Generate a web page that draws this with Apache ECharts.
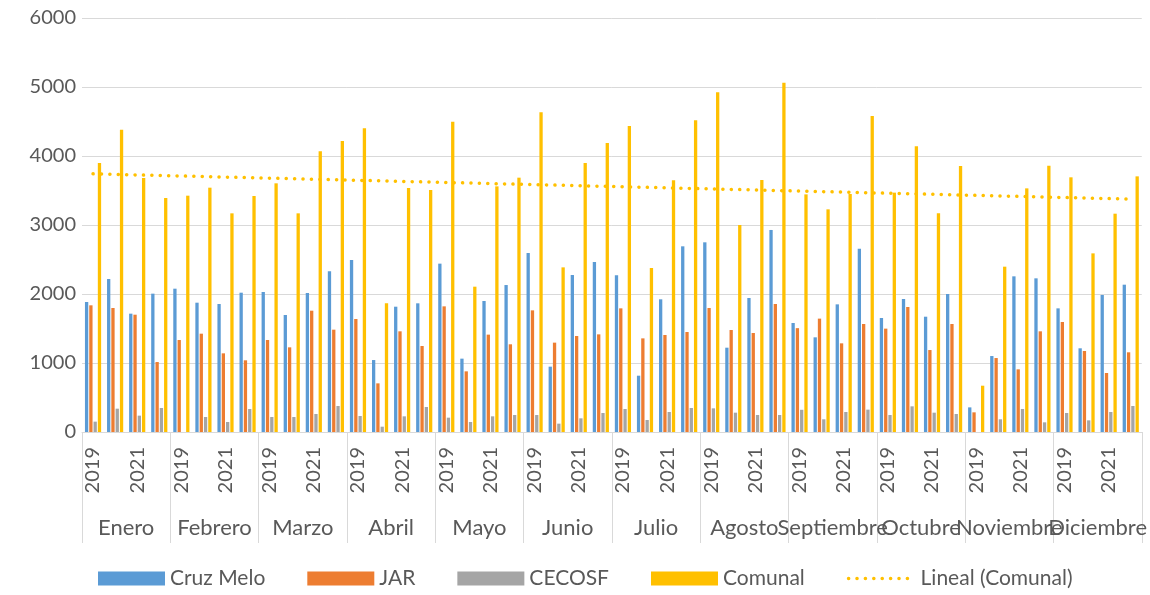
<!DOCTYPE html>
<html>
<head>
<meta charset="utf-8">
<script src="https://cdn.jsdelivr.net/npm/echarts@6/dist/echarts.min.js"></script>
<style>
  html, body { margin: 0; padding: 0; background: #fff; }
  #chart { width: 1150px; height: 595px; }
</style>
</head>
<body>
<div id="chart"></div>
<script>
const months = ['Enero', 'Febrero', 'Marzo', 'Abril', 'Mayo', 'Junio', 'Julio', 'Agosto', 'Septiembre', 'Octubre', 'Noviembre', 'Diciembre']
const years = ['2019', '2020', '2021', '2022']
const yTicks = [0, 1000, 2000, 3000, 4000, 5000, 6000]

// values per month, in order 2019, 2020, 2021, 2022
const cruzMelo = [
  1884, 2217, 1715, 2005,
  2077, 1874, 1855, 2019,
  2029, 1696, 2014, 2329,
  2493, 1043, 1816, 1865,
  2440, 1063, 1899, 2130,
  2594, 947, 2275, 2464,
  2271, 816, 1923, 2691,
  2749, 1222, 1942, 2928,
  1580, 1372, 1850, 2657,
  1652, 1928, 1671, 2000,
  357, 1101, 2256, 2227,
  1792, 1213, 1986, 2135
]
const jar = [
  1836, 1797, 1700, 1014,
  1333, 1425, 1140, 1039,
  1333, 1227, 1758, 1483,
  1638, 705, 1459, 1246,
  1821, 879, 1411, 1271,
  1763, 1295, 1391, 1415,
  1792, 1357, 1406, 1449,
  1797, 1478, 1435, 1855,
  1505, 1643, 1285, 1565,
  1498, 1812, 1188, 1565,
  285, 1072, 908, 1459,
  1594, 1174, 855, 1155
]
const cecosf = [
  150, 338, 237, 348,
  0, 217, 145, 333,
  217, 217, 261, 377,
  232, 77, 227, 362,
  208, 145, 227, 246,
  246, 121, 198, 275,
  333, 174, 290, 348,
  343, 280, 246, 246,
  322, 184, 290, 324,
  246, 372, 280, 261,
  0, 184, 333, 140,
  275, 169, 290, 377
]
const comunal = [
  3899, 4382, 3681, 3391,
  3425, 3541, 3169, 3420,
  3604, 3169, 4068, 4217,
  4401, 1865, 3536, 3507,
  4498, 2106, 3560, 3686,
  4633, 2386, 3899, 4188,
  4435, 2377, 3647, 4517,
  4923, 3000, 3652, 5063,
  3444, 3227, 3449, 4580,
  3469, 4140, 3169, 3855,
  671, 2396, 3531, 3860,
  3691, 2589, 3164, 3705
]

const yearCats = months.flatMap(() => years)

// linear trend (least squares) of Comunal, like the spreadsheet's "Lineal" trendline
const n = comunal.length
const mx = (n - 1) / 2
const my = comunal.reduce((a, b) => a + b, 0) / n
let sxy = 0
let sxx = 0
comunal.forEach((v, i) => { sxy += (i - mx) * (v - my); sxx += (i - mx) * (i - mx) })
const slope = sxy / sxx
const trend = comunal.map((v, i) => +(my + slope * (i - mx)).toFixed(1))

const textColor = '#595959'
const font = 'Lato'
const trendStyle = { color: '#FFC000', width: 3.5, type: [0.1, 8.3], cap: 'round' }

const chart = echarts.init(document.getElementById('chart'))

const bar = (name, data, color) => ({
  name,
  type: 'bar',
  data,
  barWidth: 3.3,
  barGap: '30%',
  itemStyle: { color },
  xAxisIndex: 0
})

chart.setOption({
  animation: false,
  textStyle: { fontFamily: font },
  grid: { left: 82, right: 8, top: 18, bottom: 163 },
  legend: {
    bottom: 1,
    left: 93,
    itemWidth: 67,
    itemHeight: 14,
    itemGap: 42,
    textStyle: { fontSize: 21, color: textColor, fontFamily: font },
    data: [
      { name: 'Cruz Melo', icon: 'rect' },
      { name: 'JAR', icon: 'rect' },
      { name: 'CECOSF', icon: 'rect' },
      { name: 'Comunal', icon: 'rect' },
      { name: 'Lineal (Comunal)', lineStyle: trendStyle, itemStyle: { opacity: 0 } }
    ]
  },
  xAxis: [
    {
      type: 'category',
      data: yearCats,
      axisLine: { lineStyle: { color: '#d9d9d9' } },
      axisTick: { show: false },
      axisLabel: { rotate: 90, interval: 1, fontSize: 20, color: textColor, margin: 15, fontFamily: font }
    },
    {
      type: 'category',
      data: months,
      position: 'bottom',
      axisLine: { show: false },
      axisTick: { show: true, interval: 0, length: 111, lineStyle: { color: '#d9d9d9' } },
      axisLabel: { interval: 0, fontSize: 22, color: textColor, margin: 85, fontFamily: font }
    }
  ],
  yAxis: {
    type: 'value',
    min: yTicks[0],
    max: yTicks[yTicks.length - 1],
    interval: 1000,
    axisLine: { show: false },
    axisTick: { show: false },
    splitLine: { lineStyle: { color: '#d9d9d9' } },
    axisLabel: { fontSize: 20, color: textColor, margin: 6, fontFamily: font, formatter: (v) => String(v) }
  },
  series: [
    bar('Cruz Melo', cruzMelo, '#5B9BD5'),
    bar('JAR', jar, '#ED7D31'),
    bar('CECOSF', cecosf, '#A5A5A5'),
    bar('Comunal', comunal, '#FFC000'),
    {
      name: 'Lineal (Comunal)',
      type: 'line',
      data: trend,
      symbol: 'none',
      xAxisIndex: 0,
      z: 5,
      itemStyle: { color: '#FFC000' },
      lineStyle: trendStyle
    }
  ]
})
</script>
</body>
</html>
